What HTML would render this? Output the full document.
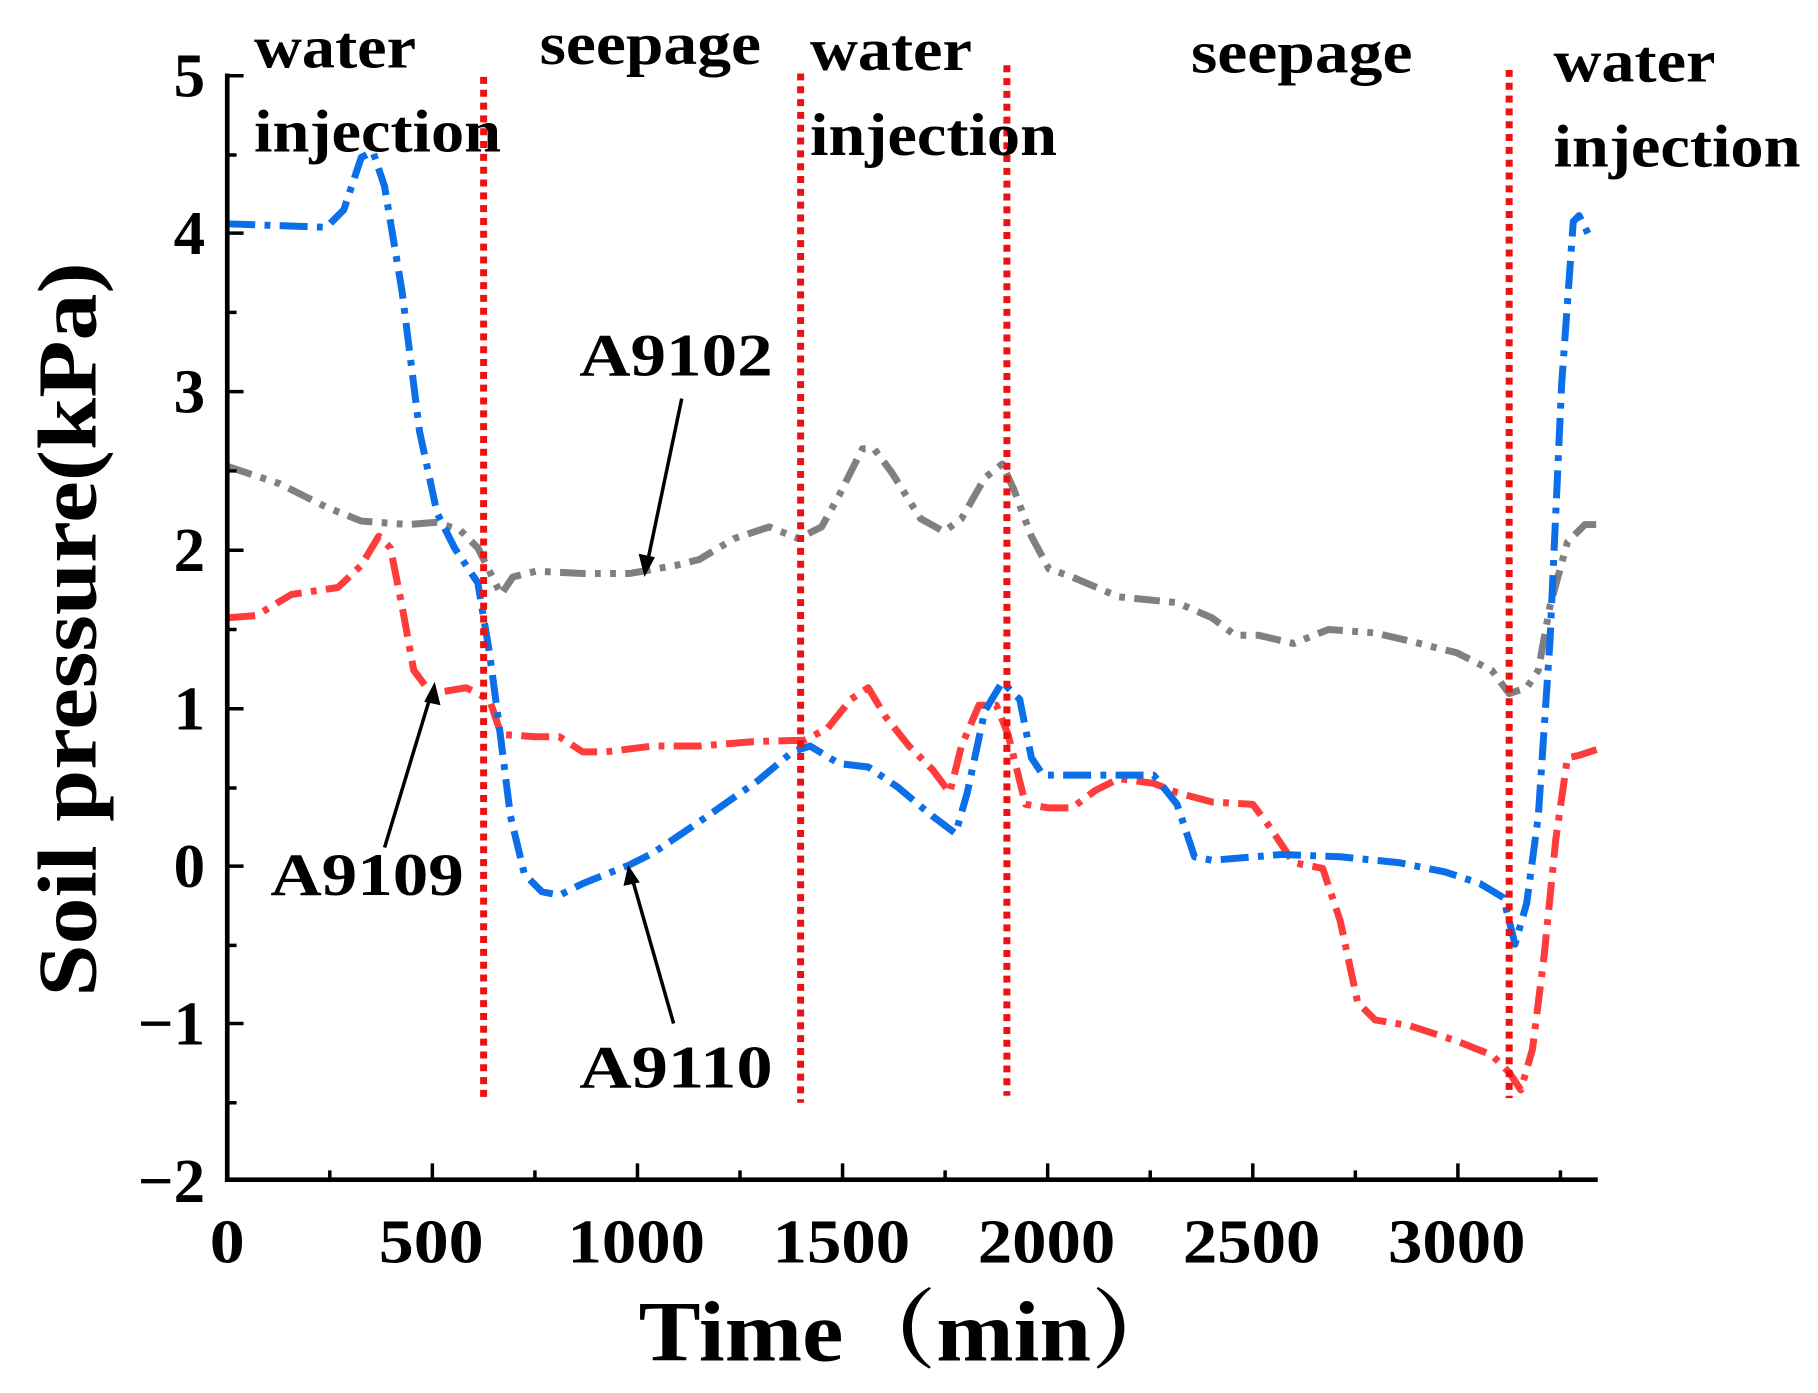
<!DOCTYPE html>
<html><head><meta charset="utf-8"><style>html,body{margin:0;padding:0;background:#fff}svg{display:block}</style></head>
<body>
<svg width="1818" height="1393" viewBox="0 0 1560 1195" preserveAspectRatio="none" xmlns="http://www.w3.org/2000/svg" font-family="Liberation Serif, serif" font-weight="bold">
<g fill="none" stroke-linejoin="round" stroke-linecap="butt">
<polyline stroke="#808080" stroke-width="6" stroke-dasharray="22,8,5,8,5,8" points="195,400 240,415 280,435 310,447 350,450 375,448 395,455 410,470 420,490 430,510 440,495 460,490 500,492 540,492 580,485 600,480 630,462 660,452 685,462 705,452 720,425 740,385 750,385 765,405 790,445 810,456 825,445 845,410 860,398 870,420 885,460 900,488 920,495 960,512 1010,517 1040,530 1060,545 1080,545 1110,552 1140,540 1180,543 1210,550 1250,560 1280,575 1295,595 1310,590 1320,575 1330,520 1345,465 1360,450 1370,450"/>
<polyline stroke="#ff3c3c" stroke-width="6" stroke-dasharray="24,8,5,8" points="195,530 220,528 250,510 290,504 310,485 325,460 335,470 345,520 355,575 370,595 400,590 420,600 430,630 460,632 480,632 500,645 520,645 560,640 600,640 650,636 690,635 710,625 730,600 745,590 760,615 780,640 800,660 815,680 825,640 840,605 855,605 865,630 880,690 900,693 920,693 940,678 960,668 990,672 1010,680 1040,688 1075,690 1090,710 1110,740 1135,745 1150,790 1165,860 1180,875 1210,880 1250,893 1280,905 1295,920 1305,935 1315,900 1325,820 1335,720 1345,650 1355,648 1370,643"/>
<polyline stroke="#0a6fe8" stroke-width="6" stroke-dasharray="24,8,5,8" points="195,192 280,195 295,180 310,135 320,130 330,160 345,250 360,370 375,440 390,470 410,500 420,560 428,620 438,700 450,750 465,765 480,768 500,758 540,742 560,732 600,705 650,670 680,645 695,640 720,655 745,658 770,675 800,700 820,715 830,680 845,610 860,585 875,600 885,650 895,665 930,665 960,665 990,665 1010,690 1025,735 1040,738 1100,733 1150,735 1200,740 1240,748 1270,758 1290,770 1300,810 1310,775 1320,700 1330,550 1340,330 1350,190 1355,185 1365,205"/>
<g stroke="#ee1111" stroke-width="6" stroke-dasharray="6,5">
<line x1="415" y1="66" x2="415" y2="946"/><line x1="687" y1="63" x2="687" y2="946"/><line x1="864" y1="56" x2="864" y2="940"/><line x1="1295" y1="60" x2="1295" y2="942"/>
</g>
<g stroke="#000" stroke-width="4">
<line x1="195" y1="63" x2="195" y2="1014"/><line x1="193" y1="1012" x2="1371" y2="1012"/>
</g>
<g stroke="#000" stroke-width="3">
<path d="M195,65h14M195,133h8M195,200h14M195,268h8M195,336h14M195,404h8M195,472h14M195,540h8M195,608h14M195,676h8M195,743h14M195,811h8M195,878h14M195,946h8M195,1012h14"/>
<path d="M283,1012v-8M371,1012v-14M459,1012v-8M547,1012v-14M635,1012v-8M723,1012v-14M811,1012v-8M899,1012v-14M987,1012v-8M1075,1012v-14M1163,1012v-8M1251,1012v-14M1339,1012v-8"/>
</g>
<g stroke="#000" stroke-width="3">
<line x1="585" y1="342" x2="555" y2="485"/><line x1="330" y1="727" x2="370" y2="595"/><line x1="578" y1="878" x2="542" y2="752"/>
</g>
<g fill="#000"><polygon points="553,495 548,475 562,478"/><polygon points="373,585 364,602 378,605"/><polygon points="539,742 535,760 549,757"/></g>
</g>
<g font-size="54" text-anchor="end" fill="#000">
<text x="176" y="83">5</text><text x="176" y="218">4</text><text x="176" y="354">3</text><text x="176" y="490">2</text><text x="176" y="626">1</text><text x="176" y="761">0</text><text x="176" y="896">−1</text><text x="176" y="1031">−2</text>
</g>
<g font-size="54" fill="#000">
<text x="180" y="1083" textLength="30" lengthAdjust="spacingAndGlyphs">0</text>
<text x="325" y="1083" textLength="90" lengthAdjust="spacingAndGlyphs">500</text>
<text x="487" y="1083" textLength="118" lengthAdjust="spacingAndGlyphs">1000</text>
<text x="663" y="1083" textLength="118" lengthAdjust="spacingAndGlyphs">1500</text>
<text x="839" y="1083" textLength="118" lengthAdjust="spacingAndGlyphs">2000</text>
<text x="1015" y="1083" textLength="118" lengthAdjust="spacingAndGlyphs">2500</text>
<text x="1191" y="1083" textLength="118" lengthAdjust="spacingAndGlyphs">3000</text>
</g>
<text x="548" y="1167" font-size="74" textLength="468" lengthAdjust="spacingAndGlyphs" font-family="Liberation Serif, 'Noto Serif CJK SC', serif">Time（min）</text>
<text transform="translate(82,855) rotate(-90)" font-size="72" textLength="630" lengthAdjust="spacingAndGlyphs">Soil pressure(kPa)</text>
<g font-size="52" fill="#000">
<text x="218" y="58" textLength="139" lengthAdjust="spacingAndGlyphs">water</text><text x="218" y="130" textLength="212" lengthAdjust="spacingAndGlyphs">injection</text>
<text x="463" y="55" textLength="190" lengthAdjust="spacingAndGlyphs">seepage</text>
<text x="695" y="60" textLength="139" lengthAdjust="spacingAndGlyphs">water</text><text x="695" y="133" textLength="212" lengthAdjust="spacingAndGlyphs">injection</text>
<text x="1022" y="62" textLength="190" lengthAdjust="spacingAndGlyphs">seepage</text>
<text x="1333" y="70" textLength="139" lengthAdjust="spacingAndGlyphs">water</text><text x="1333" y="143" textLength="212" lengthAdjust="spacingAndGlyphs">injection</text>
<text x="497" y="322" textLength="166" lengthAdjust="spacingAndGlyphs">A9102</text><text x="232" y="768" textLength="166" lengthAdjust="spacingAndGlyphs">A9109</text><text x="497" y="933" textLength="166" lengthAdjust="spacingAndGlyphs">A9110</text>
</g>
</svg>
</body></html>
